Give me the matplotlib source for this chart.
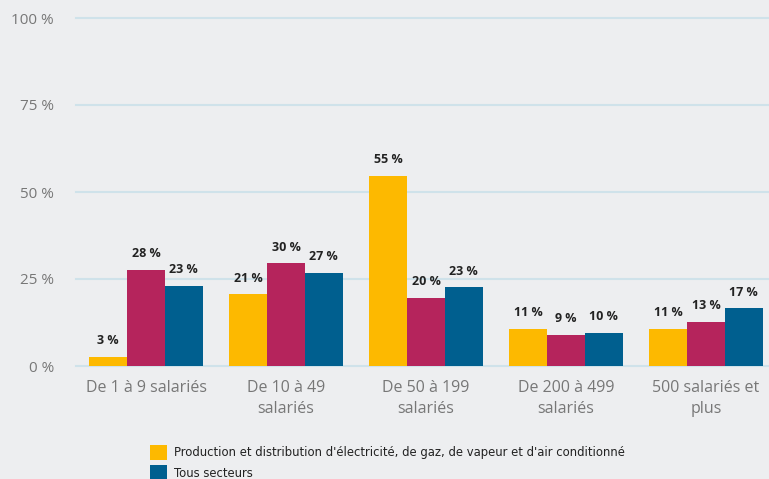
import matplotlib.pyplot as plt
import numpy as np

categories = ["De 1 à 9 salariés", "De 10 à 49\nsalariés", "De 50 à 199\nsalariés",
              "De 200 à 499\nsalariés", "500 salariés et\nplus"]
energie = [2.6, 20.6, 54.6, 10.6, 10.6]
tous_secteurs_pink = [27.6, 29.5, 19.6, 8.9, 12.7]
tous_secteurs = [23.0, 26.8, 22.6, 9.6, 16.6]
yticks = [0, 25, 50, 75, 100]

bg = "#edeef0"
fig = plt.figure(figsize=(7.69, 4.79), dpi=100, facecolor=bg)
ax = fig.add_axes([76 / 769, 113 / 479, 700 / 769, 348 / 479])
ax.set_facecolor(bg)

x = np.arange(len(categories))
w = 0.27
series = [
    (energie, "#fdb900", "Production et distribution d'électricité, de gaz, de vapeur et d'air conditionné"),
    (tous_secteurs_pink, "#b5245c", None),
    (tous_secteurs, "#005f8f", "Tous secteurs"),
]
handles = []
for i, (vals, color, label) in enumerate(series):
    bars = ax.bar(x + (i - 1) * w, vals, width=w, color=color, zorder=3)
    if label:
        handles.append((bars, label))
    for b, v in zip(bars, vals):
        ax.annotate(f"{round(v)} %", (b.get_x() + b.get_width() / 2, v),
                    xytext=(0, 7), textcoords="offset points", ha="center", va="bottom",
                    fontsize=9, fontweight="bold", color="#222222", family="Open Sans")

ax.set_xlim(-0.5, 4.5)
ax.set_ylim(0, 100)
ax.set_yticks(yticks)
ax.set_yticklabels([f"{t} %" for t in yticks], family="Open Sans", fontsize=11, color="#777777")
ax.set_xticks(x)
ax.set_xticklabels(categories, family="Open Sans", fontsize=11.5, color="#777777", linespacing=1.45)
ax.tick_params(axis="both", length=0)
ax.tick_params(axis="y", pad=16)
ax.tick_params(axis="x", pad=10)
ax.grid(axis="y", color="#cfe2ea", linewidth=1.5, zorder=0)
for s in ax.spines.values():
    s.set_visible(False)
for gl in ax.get_ygridlines():
    gl.set_clip_on(False)

leg = fig.legend([h for h, _ in handles], [l for _, l in handles], loc="upper left",
                 bbox_to_anchor=(139 / 769, 1 - 434 / 479), frameon=False,
                 prop={"family": "DejaVu Sans", "size": 8.4}, handlelength=1.5,
                 handleheight=1.7, handletextpad=0.6, labelspacing=0.4)
for t in leg.get_texts():
    t.set_color("#222222")

fig.savefig("out.png", dpi=100, facecolor=bg)
